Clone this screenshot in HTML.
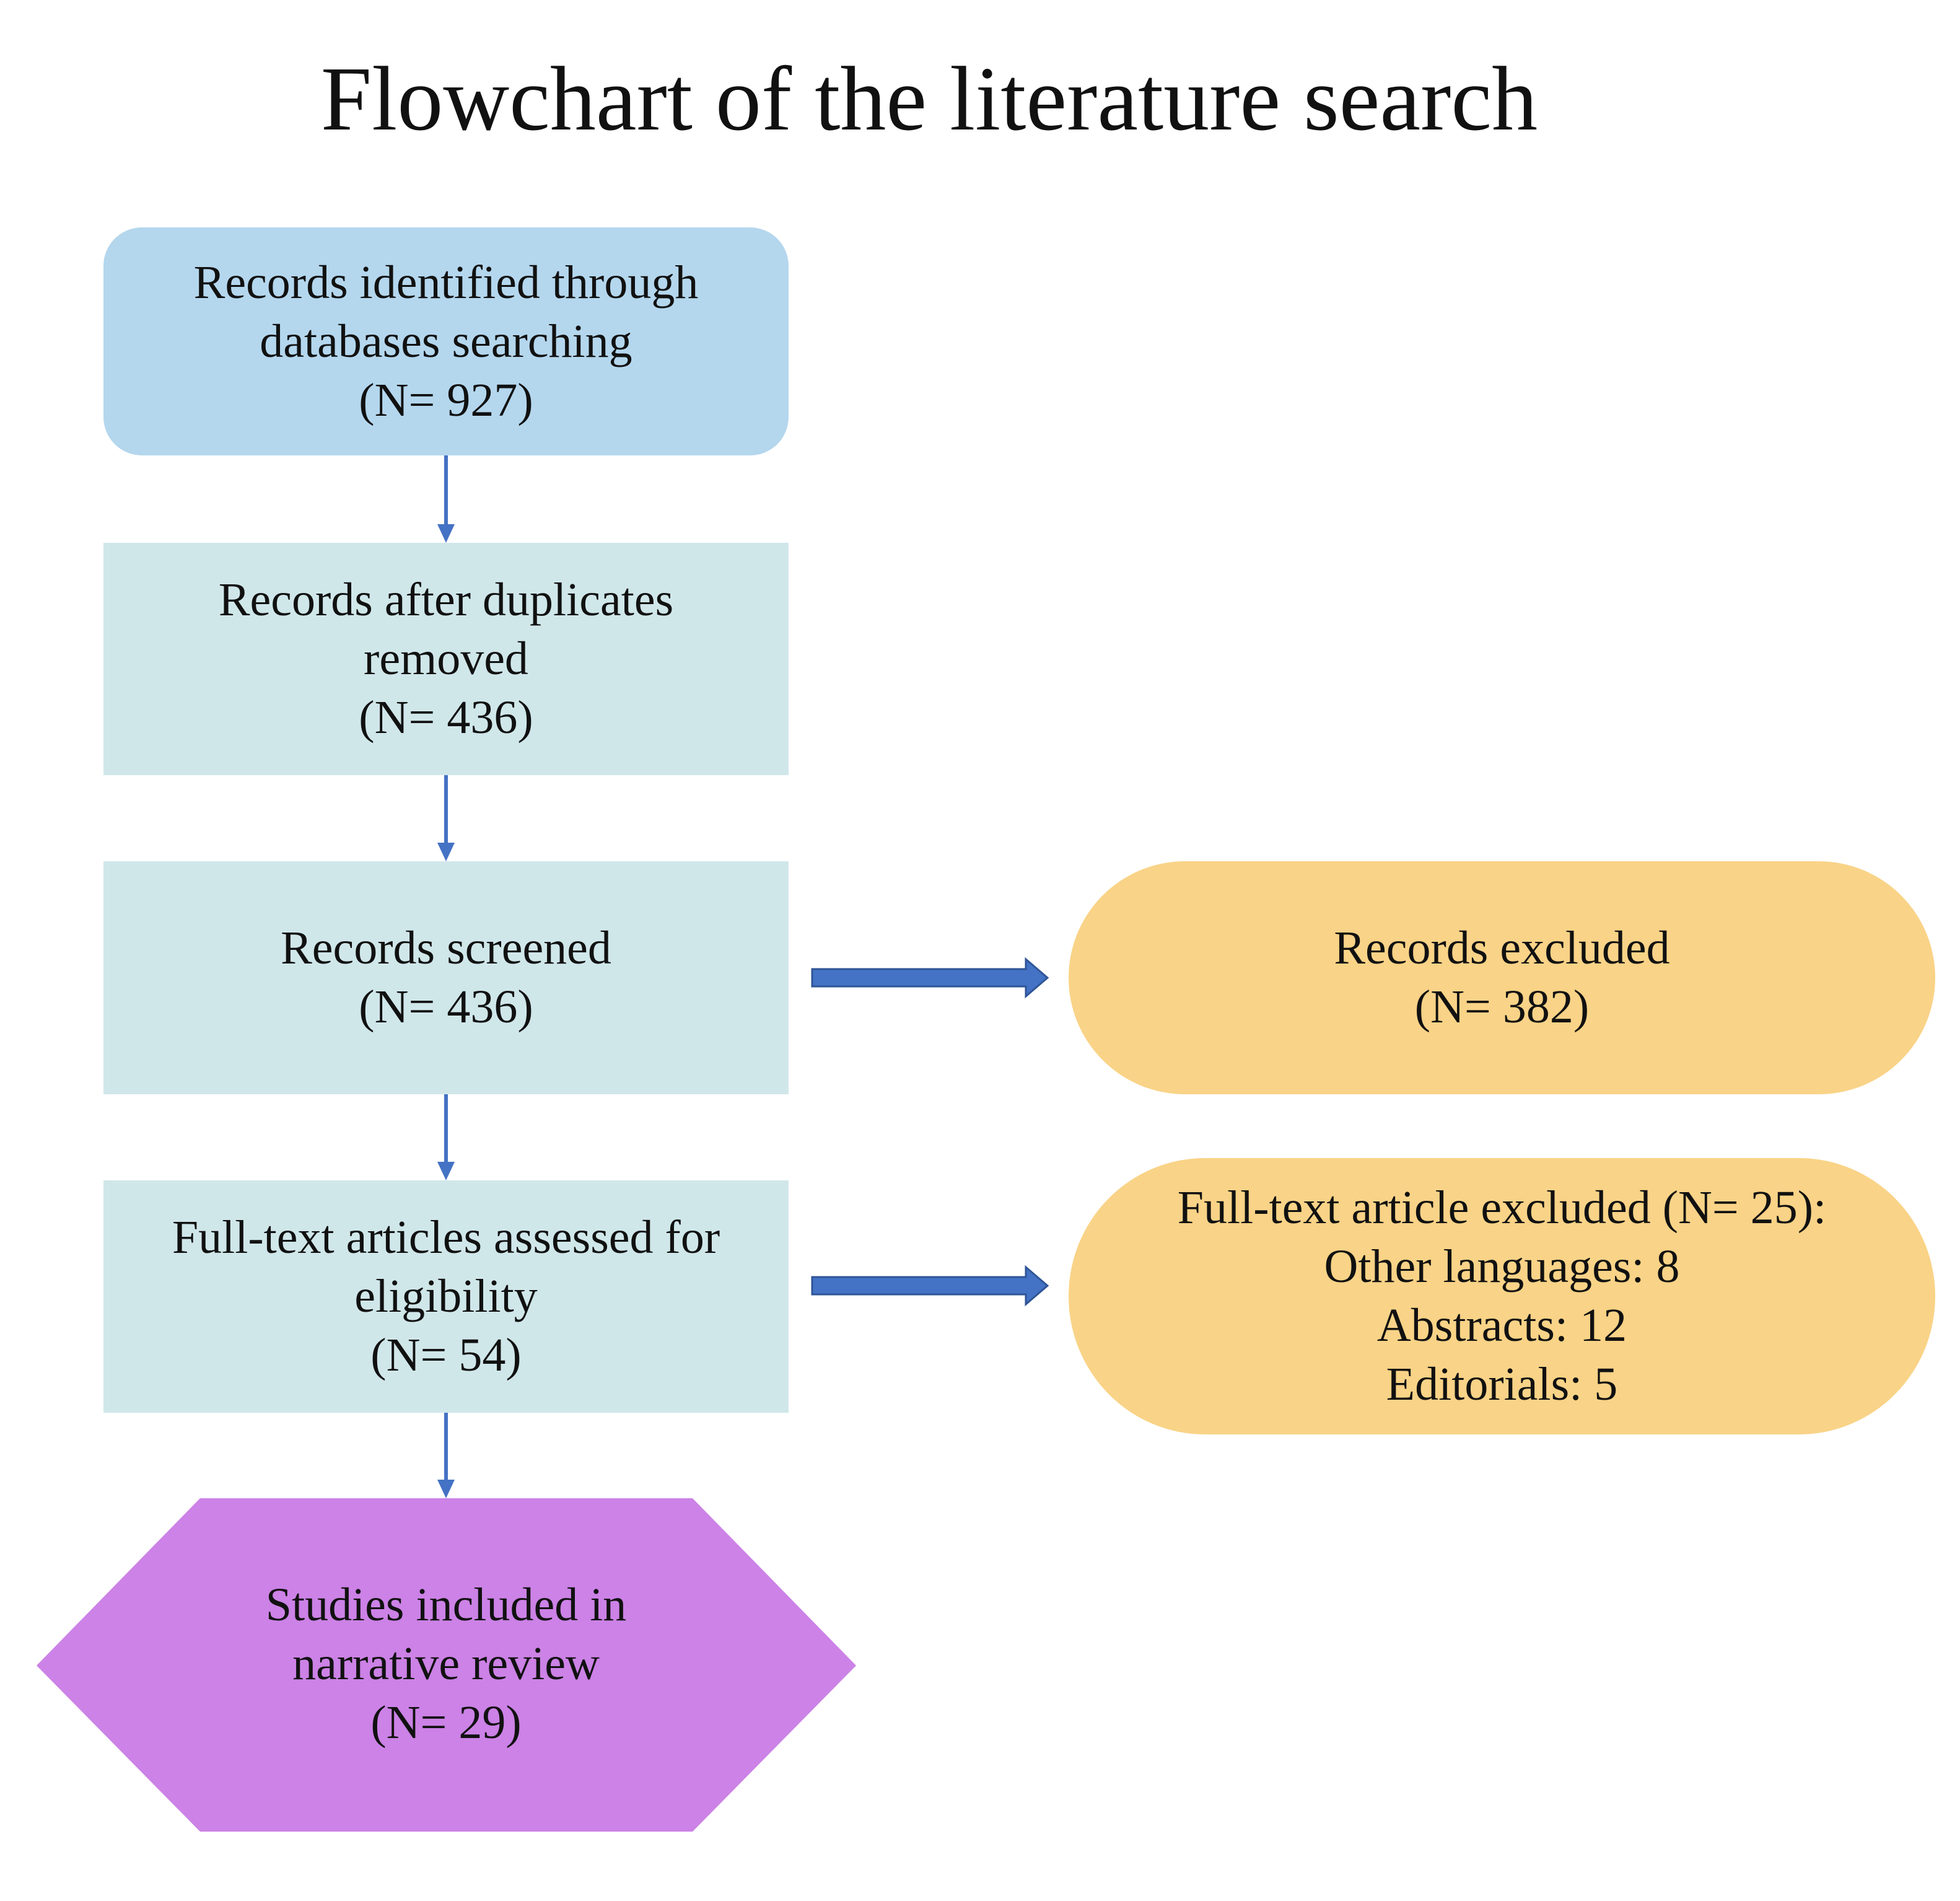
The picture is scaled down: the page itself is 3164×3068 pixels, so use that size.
<!DOCTYPE html>
<html><head><meta charset="utf-8"><style>
body{margin:0;width:3164px;height:3068px;background:#fff;position:relative;overflow:hidden;font-family:"Liberation Serif",serif;color:#111}
.n{position:absolute;display:flex;align-items:center;justify-content:center;text-align:center;font-size:76px;line-height:95px;box-sizing:border-box}
.t{position:absolute;left:0;width:3000px;top:75px;text-align:center;font-size:148px;line-height:170px}
</style></head><body>
<div class="t">Flowchart of the literature search</div>
<div class="n" style="left:167px;top:367px;width:1106px;height:368px;background:#b4d7ee;border-radius:62px">Records identified through<br>databases searching<br>(N= 927)</div>
<div class="n" style="left:167px;top:876px;width:1106px;height:375px;background:#d0e7ea">Records after duplicates<br>removed<br>(N= 436)</div>
<div class="n" style="left:167px;top:1390px;width:1106px;height:376px;background:#d0e7ea">Records screened<br>(N= 436)</div>
<div class="n" style="left:167px;top:1905px;width:1106px;height:375px;background:#d0e7ea">Full-text articles assessed for<br>eligibility<br>(N= 54)</div>
<div class="n" style="left:1725px;top:1390px;width:1399px;height:376px;background:#f9d387;border-radius:188px">Records excluded<br>(N= 382)</div>
<div class="n" style="left:1725px;top:1869px;width:1399px;height:446px;background:#f9d387;border-radius:220px/50%">Full-text article excluded (N= 25):<br>Other languages: 8<br>Abstracts: 12<br>Editorials: 5</div>
<svg style="position:absolute;left:0;top:0" width="3164" height="3068">
<polygon points="323,2418 1118,2418 1382,2688 1118,2956 323,2956 59,2688" fill="#cc82e6"/>
<g stroke="#4472c4" stroke-width="6" fill="#4472c4">
<line x1="720" y1="735" x2="720" y2="850"/><polygon points="706,846 734,846 720,876" stroke="none"/>
<line x1="720" y1="1251" x2="720" y2="1364"/><polygon points="706,1360 734,1360 720,1390" stroke="none"/>
<line x1="720" y1="1766" x2="720" y2="1879"/><polygon points="706,1875 734,1875 720,1905" stroke="none"/>
<line x1="720" y1="2280" x2="720" y2="2392"/><polygon points="706,2388 734,2388 720,2418" stroke="none"/>
</g>
<g fill="#4472c4" stroke="#2f5597" stroke-width="3">
<polygon points="1311,1564 1656,1564 1656,1548 1691,1578 1656,1608 1656,1592 1311,1592"/>
<polygon points="1311,2061 1656,2061 1656,2045 1691,2075 1656,2105 1656,2089 1311,2089"/>
</g>
<text x="720" y="2615" text-anchor="middle" font-family="Liberation Serif" font-size="76" fill="#111">Studies included in</text>
<text x="720" y="2710" text-anchor="middle" font-family="Liberation Serif" font-size="76" fill="#111">narrative review</text>
<text x="720" y="2805" text-anchor="middle" font-family="Liberation Serif" font-size="76" fill="#111">(N= 29)</text>
</svg>
</body></html>
